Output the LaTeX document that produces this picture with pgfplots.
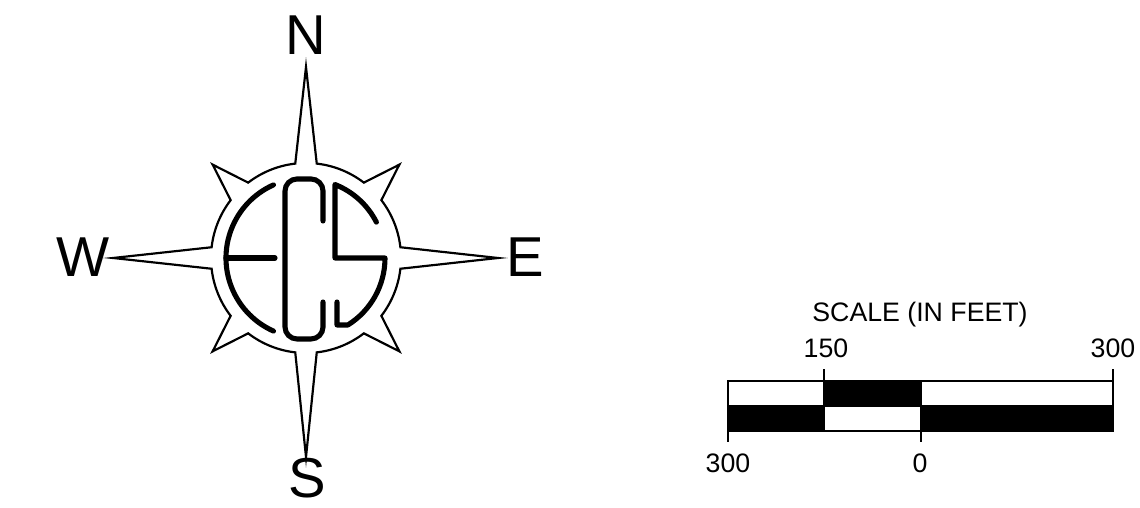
\documentclass[border=0pt]{standalone}
\usepackage{pgfplots}
\pgfplotsset{compat=1.18}
\usepackage{fontspec}
\setmainfont{Liberation Sans}
\begin{document}
\begin{tikzpicture}
\begin{axis}[scale only axis, width=114mm, height=50.8mm,
  xmin=0, xmax=1140, ymin=0, ymax=508, hide axis, clip=false]
% ---------- scale bar (pixel coordinates, y upward) ----------
\addplot[fill=black, draw=black, line width=0.55pt, mark=none] coordinates {(824,102) (921,102) (921,127) (824,127) (824,102)};
\addplot[fill=black, draw=black, line width=0.55pt, mark=none] coordinates {(728,77) (824,77) (824,102) (728,102) (728,77)};
\addplot[fill=black, draw=black, line width=0.55pt, mark=none] coordinates {(921,77) (1113,77) (1113,102) (921,102) (921,77)};
\addplot[draw=black, line width=0.6pt, mark=none] coordinates {(728,77) (1113,77) (1113,127) (728,127) (728,77)};
\addplot[draw=black, line width=0.6pt, mark=none] coordinates {(728,102) (1113,102)};
\addplot[draw=black, line width=0.6pt, mark=none] coordinates {(824,77) (824,139)};
\addplot[draw=black, line width=0.6pt, mark=none] coordinates {(1113,127) (1113,139)};
\addplot[draw=black, line width=0.6pt, mark=none] coordinates {(728,66) (728,127)};
\addplot[draw=black, line width=0.6pt, mark=none] coordinates {(921,66) (921,127)};
\node[anchor=base, font=\fontsize{7.6pt}{9pt}\selectfont] at (axis cs:920,186) {SCALE (IN FEET)};
\node[anchor=base, font=\fontsize{7.6pt}{9pt}\selectfont] at (axis cs:826,150) {150};
\node[anchor=base, font=\fontsize{7.6pt}{9pt}\selectfont] at (axis cs:1113,150) {300};
\node[anchor=base, font=\fontsize{7.6pt}{9pt}\selectfont] at (axis cs:728,35) {300};
\node[anchor=base, font=\fontsize{7.6pt}{9pt}\selectfont] at (axis cs:920,35) {0};
% ---------- compass rose ----------
\draw[line width=0.62pt, fill=white, line join=miter, shift={(axis cs:306,250)}]
  (6.5:9.5mm) arc[start angle=6.5, end angle=37.5, radius=9.5mm] -- (45:13.2mm) --
  (52.5:9.5mm) arc[start angle=52.5, end angle=83.5, radius=9.5mm] -- (90:19.1mm) --
  (96.5:9.5mm) arc[start angle=96.5, end angle=127.5, radius=9.5mm] -- (135:13.2mm) --
  (142.5:9.5mm) arc[start angle=142.5, end angle=173.5, radius=9.5mm] -- (180:19.3mm) --
  (186.5:9.5mm) arc[start angle=186.5, end angle=217.5, radius=9.5mm] -- (225:13.2mm) --
  (232.5:9.5mm) arc[start angle=232.5, end angle=263.5, radius=9.5mm] -- (270:19.9mm) --
  (276.5:9.5mm) arc[start angle=276.5, end angle=307.5, radius=9.5mm] -- (315:13.2mm) --
  (322.5:9.5mm) arc[start angle=322.5, end angle=353.5, radius=9.5mm] -- (0:19.2mm) -- cycle;
% E
\draw[line width=1.45pt, line cap=round, shift={(axis cs:306,250)}]
  (114:8.0mm) arc[start angle=114, end angle=246, radius=8.0mm];
\draw[line width=1.45pt, line cap=round, shift={(axis cs:306,250)}]
  (-8.0mm,0mm) -- (-3.1mm,0mm);
% C
\draw[line width=1.45pt, line cap=round, rounded corners=1.2mm, shift={(axis cs:306,250)}]
  (1.7mm,3.7mm) -- (1.7mm,7.9mm) -- (-2.1mm,7.9mm) -- (-2.1mm,-8.1mm) -- (1.7mm,-8.1mm) -- (1.7mm,-4.4mm);
% S
\draw[line width=1.45pt, line cap=round, line join=round, shift={(axis cs:306,250)}]
  (27:7.9mm) arc[start angle=27, end angle=68.5, radius=7.9mm] -- (2.9mm,0mm) -- (7.9mm,0mm)
  arc[start angle=0, end angle=-58, radius=7.9mm] -- (3.1mm,-6.7mm) -- (3.1mm,-4.4mm);
% letters
\node[font=\fontsize{16pt}{19pt}\selectfont] at (axis cs:306,473) {N};
\node[font=\fontsize{16pt}{19pt}\selectfont] at (axis cs:307,30) {S};
\node[font=\fontsize{16pt}{19pt}\selectfont] at (axis cs:83,251) {W};
\node[font=\fontsize{16pt}{19pt}\selectfont] at (axis cs:525,251) {E};
\end{axis}
\pgfresetboundingbox
\useasboundingbox (current axis.south west) rectangle (current axis.north east);
\end{tikzpicture}
\end{document}
